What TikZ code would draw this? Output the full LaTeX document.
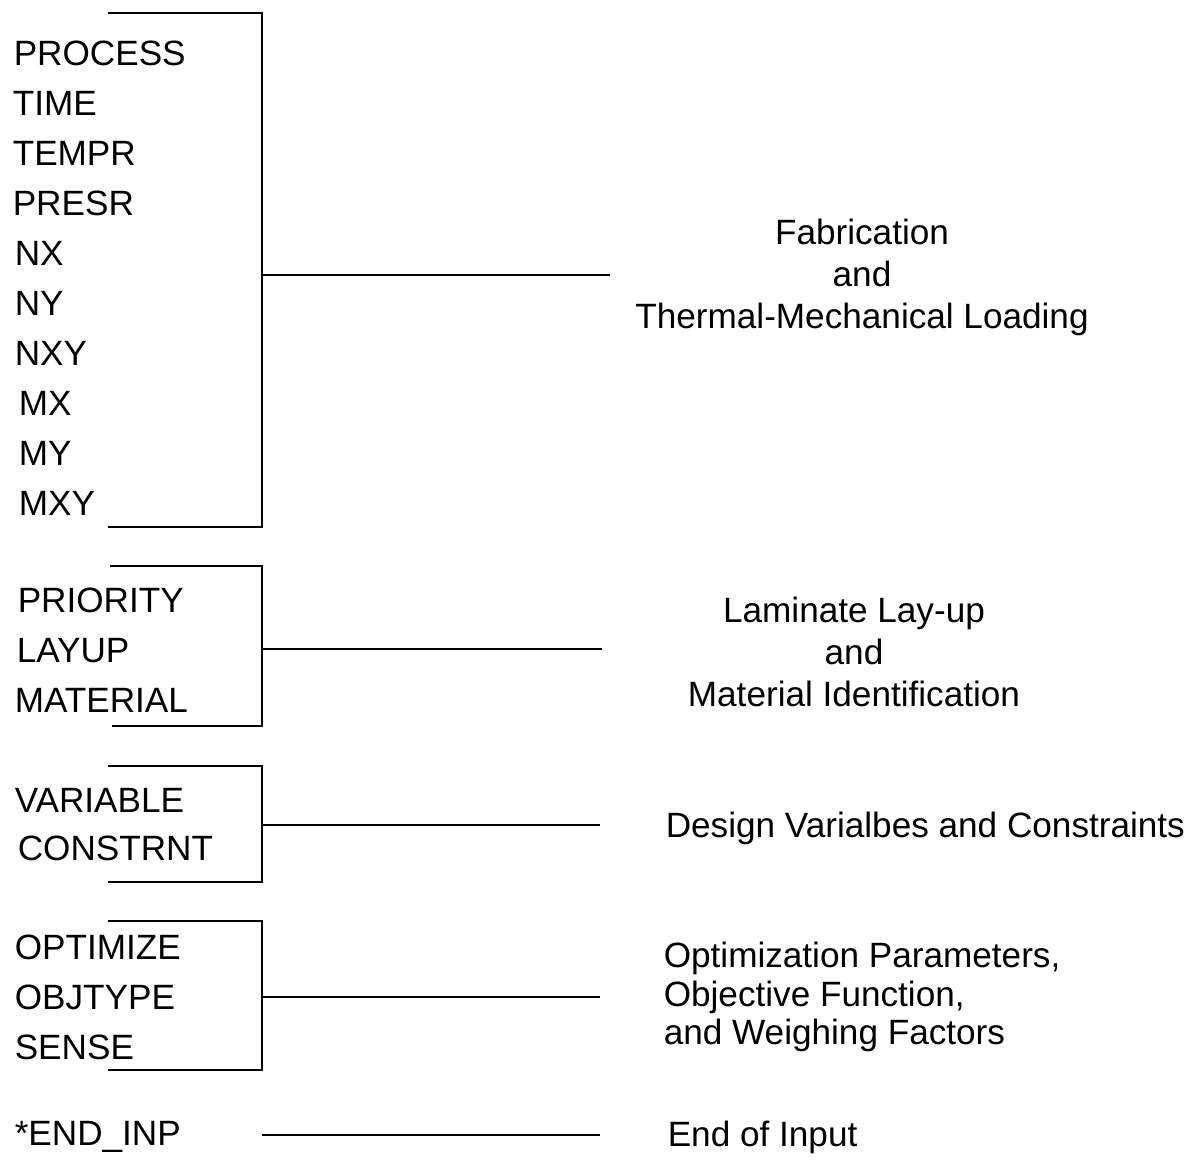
\documentclass[tikz,border=0pt]{standalone}
\usepackage{fontspec}
\setmainfont{Liberation Sans}

\begin{document}
\begin{tikzpicture}[x=0.025cm,
					y=-0.025cm,
					line width=1.1pt,
					every node/.style={inner sep=0pt,font=\fontsize{25}{29.9}\selectfont},
					key node/.style={anchor=base west},
					desc node/.style={align=center},
					list node/.style={align=left,anchor=west,font=\fontsize{25}{27.4}\selectfont}]

  \useasboundingbox (0,0) rectangle (1196,1160);

  % input keywords
  \foreach \name/\txt/\x/\y in {process/PROCESS/13/65, time/TIME/12/115, tempr/TEMPR/12/165,
      presr/PRESR/12/215, nx/NX/14/265, ny/NY/14/315, nxy/NXY/14/365, mx/MX/18/415,
      my/MY/18/465, mxy/MXY/18/515, priority/PRIORITY/17/612, layup/LAYUP/16/662,
      material/MATERIAL/14/712, variable/VARIABLE/14/812, constrnt/CONSTRNT/17/860,
      optimize/OPTIMIZE/14/959, objtype/OBJTYPE/14/1009, sense/SENSE/14/1059,
      endinp/*END\_INP/14/1145}
    \node[key node] (\name) at (\x,\y) {\txt};

  % brackets
  \coordinate (fabT) at (108,13);   \coordinate (fabB) at (108,527);
  \coordinate (layT) at (110,566);  \coordinate (layB) at (112,726);
  \coordinate (desT) at (108,766);  \coordinate (desB) at (108,882);
  \coordinate (optT) at (108,921);  \coordinate (optB) at (108,1070);
  \draw (fabT) -| (262,527) -- (fabB);
  \draw (layT) -| (262,726) -- (layB);
  \draw (desT) -| (262,882) -- (desB);
  \draw (optT) -| (262,1070) -- (optB);

  % descriptions
  \node[desc node] (fab) at (862,277) {Fabrication\\and\\Thermal-Mechanical Loading};
  \node[desc node] (lay) at (854,652) {Laminate Lay-up\\and\\Material Identification};
  \node[key node] (des) at (665,837) {Design Varialbes and Constraints};
  \node[list node] (opt) at (663,997) {Optimization Parameters,\\Objective Function,\\and Weighing Factors};
  \node[key node] (end) at (667,1146) {End of Input};

  \coordinate (fabA) at (262,275);  \coordinate (fabE) at (610,275);
  \coordinate (layA) at (262,649);  \coordinate (layE) at (602,649);
  \coordinate (desA) at (262,825);  \coordinate (desE) at (600,825);
  \coordinate (optA) at (262,997);  \coordinate (optE) at (600,997);
  \coordinate (endA) at (262,1135); \coordinate (endE) at (600,1135);

  \path[draw]
    (fabA) edge (fabE)
    (layA) edge (layE)
    (desA) edge (desE)
    (optA) edge (optE)
    (endA) edge (endE);
\end{tikzpicture}
\end{document}
